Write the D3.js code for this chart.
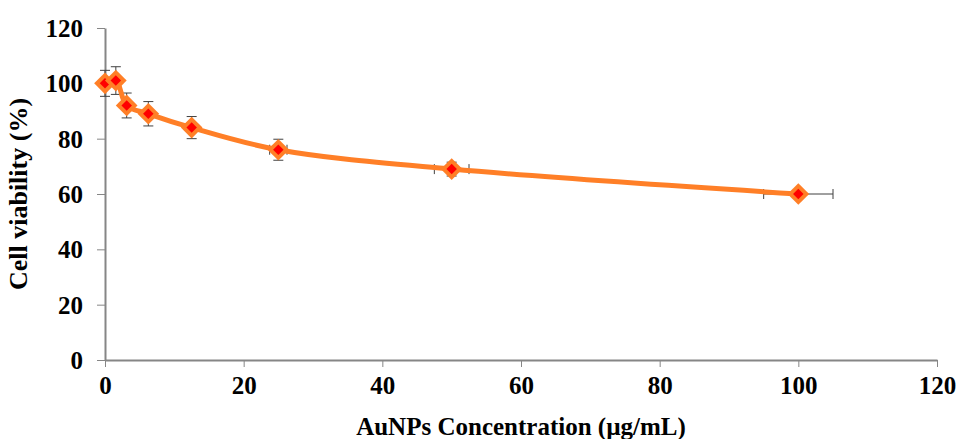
<!DOCTYPE html>
<html>
<head>
<meta charset="utf-8">
<script src="https://cdn.jsdelivr.net/npm/d3@7"></script>
<style>
  body { margin: 0; background: #fff; }
  text { font-family: "Liberation Serif", "Times New Roman", serif; font-weight: bold; }
</style>
</head>
<body>
<div id="chart"></div>
<script>
// concentration (ug/mL) and viability (%)
const concentrations = [0, 1.5625, 3.125, 6.25, 12.5, 25, 50, 100];
const viability = [100, 101, 92, 89, 84, 76, 69, 60];
const viabilityErr = [4.7, 5, 4.5, 4.4, 4, 3.8, 2.5, 1];
const concErr = [0, 0.08, 0.16, 0.31, 0.63, 1.25, 2.5, 5];
const xTicks = [0, 20, 40, 60, 80, 100, 120];
const yTicks = [0, 20, 40, 60, 80, 100, 120];

const width = 960, height = 439;
const margin = {top: 28, right: 23, bottom: 79, left: 105};

const svg = d3.select("#chart").append("svg")
    .attr("width", width)
    .attr("height", height);

const x = d3.scaleLinear()
    .domain([0, 120])
    .range([margin.left, width - margin.right]);

const y = d3.scaleLinear()
    .domain([0, 120])
    .range([height - margin.bottom, margin.top]);

const axisColor = "#868686";

// y axis
svg.append("g")
    .attr("transform", `translate(${margin.left},0)`)
    .call(d3.axisLeft(y).tickValues(yTicks).tickSize(8).tickSizeOuter(0).tickPadding(14))
    .call(g => g.select(".domain").attr("stroke", axisColor).attr("stroke-width", 2))
    .call(g => g.selectAll(".tick line").attr("stroke", axisColor).attr("stroke-width", 1))
    .call(g => g.selectAll(".tick text")
        .attr("fill", "#000")
        .style("font-size", "25px")
        .attr("dy", "0.34em"));

// x axis
svg.append("g")
    .attr("transform", `translate(0,${y(0)})`)
    .call(d3.axisBottom(x).tickValues(xTicks).tickSize(7).tickSizeOuter(0).tickPadding(9))
    .call(g => g.select(".domain").attr("stroke", axisColor).attr("stroke-width", 2))
    .call(g => g.selectAll(".tick line").attr("stroke", axisColor).attr("stroke-width", 1))
    .call(g => g.selectAll(".tick text")
        .attr("fill", "#000")
        .style("font-size", "25px")
        .attr("dy", "0.71em"));

// axis titles
svg.append("text")
    .attr("x", (x(0) + x(120)) / 2)
    .attr("y", 435)
    .attr("text-anchor", "middle")
    .style("font-size", "25px")
    .text("AuNPs Concentration (µg/mL)");

svg.append("text")
    .attr("transform", `translate(27,${(y(0) + y(120)) / 2}) rotate(-90)`)
    .attr("text-anchor", "middle")
    .style("font-size", "26px")
    .text("Cell viability (%)");

const data = concentrations.map((c, i) => ({
    x: c, y: viability[i], ey: viabilityErr[i], ex: concErr[i]
}));

// error bars
const err = svg.append("g")
    .attr("stroke", "#404040")
    .attr("stroke-width", 1);
const cap = 5;
data.forEach(d => {
    err.append("line")
        .attr("x1", x(d.x)).attr("x2", x(d.x))
        .attr("y1", y(d.y - d.ey)).attr("y2", y(d.y + d.ey));
    [d.y - d.ey, d.y + d.ey].forEach(v => {
        err.append("line")
            .attr("x1", x(d.x) - cap).attr("x2", x(d.x) + cap)
            .attr("y1", y(v)).attr("y2", y(v));
    });
    if (d.ex > 0) {
        err.append("line")
            .attr("x1", x(d.x - d.ex)).attr("x2", x(d.x + d.ex))
            .attr("y1", y(d.y)).attr("y2", y(d.y));
        [d.x - d.ex, d.x + d.ex].forEach(v => {
            err.append("line")
                .attr("x1", x(v)).attr("x2", x(v))
                .attr("y1", y(d.y) - cap).attr("y2", y(d.y) + cap);
        });
    }
});

// smoothed line
const line = d3.line()
    .x(d => x(d.x))
    .y(d => y(d.y))
    .curve(d3.curveCatmullRom.alpha(0.5));

svg.append("path")
    .datum(data)
    .attr("fill", "none")
    .attr("stroke", "#FF7F27")
    .attr("stroke-width", 5)
    .attr("stroke-linejoin", "round")
    .attr("d", line);

// diamond markers
const outer = d3.symbol().type(d3.symbolDiamond2).size(300);
const inner = d3.symbol().type(d3.symbolDiamond2).size(70);

const markers = svg.append("g").selectAll("g")
    .data(data)
    .join("g")
    .attr("transform", d => `translate(${x(d.x)},${y(d.y)})`);

markers.append("path").attr("d", outer).attr("fill", "#FF7F27");
markers.append("path").attr("d", inner).attr("fill", "#FF0000");
</script>
</body>
</html>
